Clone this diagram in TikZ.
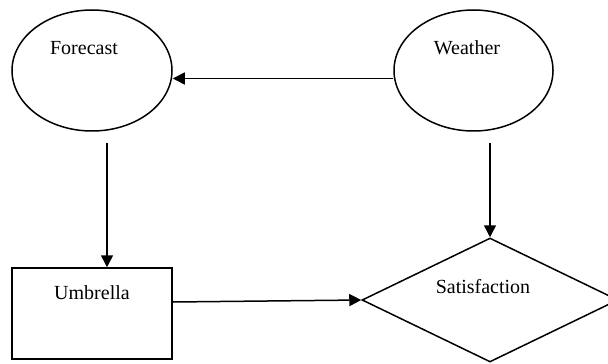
\documentclass[tikz,border=0pt]{standalone}
\usepackage{fontspec}
\setmainfont{Liberation Serif}
\usetikzlibrary{shapes.geometric,arrows.meta}

\begin{document}
\begin{tikzpicture}[
  x=0.5pt, y=-0.5pt,
  box/.style={draw, line width=0.75pt, inner sep=0pt},
  lbl/.style={font=\fontsize{10}{12}\selectfont, inner sep=0pt},
  arr/.style={-{Triangle[length=6pt,width=6pt]}, line width=0.75pt}
]
  \useasboundingbox (0,0) rectangle (608,363);

  \node[box, ellipse, minimum width=80pt, minimum height=60.5pt] (forecast) at (92, 70.5) {};
  \node[box, ellipse, minimum width=79.5pt, minimum height=60.5pt] (weather) at (473.5, 70.5) {};
  \node[box, rectangle, minimum width=80pt, minimum height=45.5pt] (umbrella) at (92, 313.5) {};
  \node[box, diamond, minimum width=128pt, minimum height=62pt] (sat) at (490, 300) {};

  \node[lbl] (forecast-txt) at (84, 48) {Forecast};
  \node[lbl] (weather-txt) at (467, 48) {Weather};
  \node[lbl] (umbrella-txt) at (92, 293) {Umbrella};
  \node[lbl] (sat-txt) at (483, 287) {Satisfaction};

  \draw[arr] ([yshift=-4pt]weather.west) -- ([yshift=-4pt]forecast.east);
  \draw[arr] ([xshift=7.5pt,yshift=-5.5pt]forecast.south) -- ([xshift=7.5pt]umbrella.north);
  \draw[arr] ([xshift=8.25pt,yshift=-5.5pt]weather.south) -- (sat.north);
  \draw[arr] ([yshift=5.75pt]umbrella.east) -- (sat.west);
\end{tikzpicture}
\end{document}
